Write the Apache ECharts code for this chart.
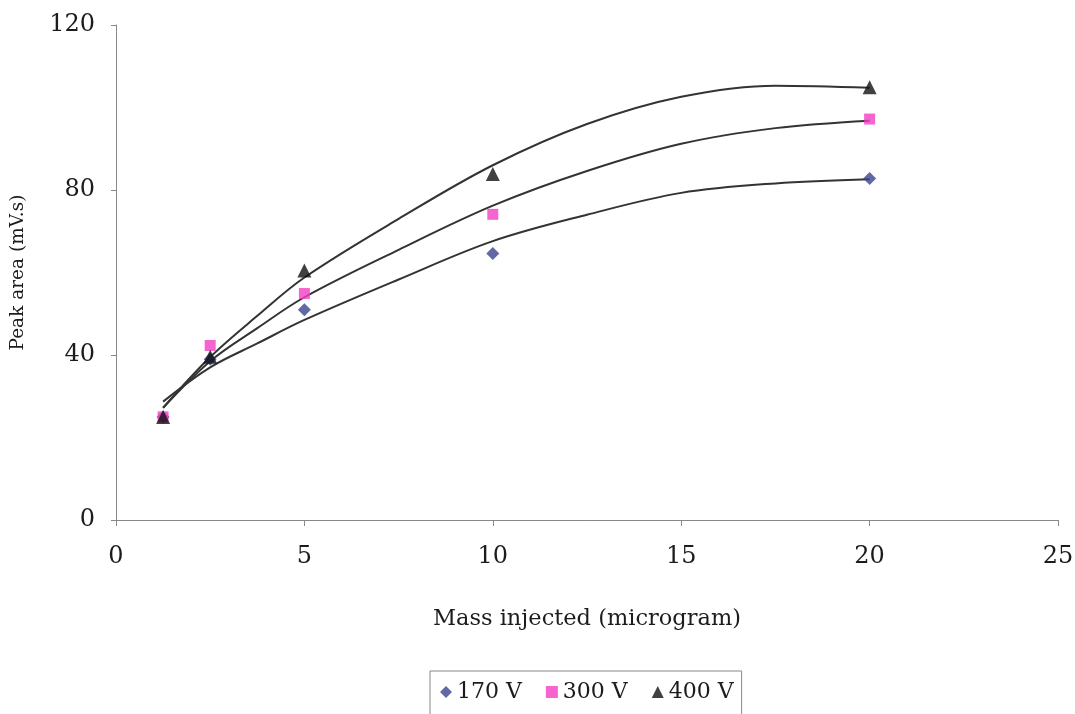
<!DOCTYPE html>
<html>
<head>
<meta charset="utf-8">
<script src="https://cdn.jsdelivr.net/npm/echarts@6/dist/echarts.min.js"></script>
<style>
html,body{margin:0;padding:0;background:#fff;}
#chart{width:1075px;height:714px;}
</style>
</head>
<body>
<div id="chart"></div>
<script>
// Measured points
const massX = [1.25, 2.5, 5, 10, 20];
const v170 = [25, 39, 51, 64.6, 82.8];
const v300 = [25, 42.3, 54.9, 74.1, 97.2];
const v400 = [25, 39.6, 60.5, 83.9, 104.9];

// Trend curves
const trendX = [1.25, 2.5, 3.75, 5, 7.5, 10, 12.5, 15, 17.5, 20];
const trend170 = [28.7, 37, 42.8, 48.5, 58.3, 67.6, 74, 79.3, 81.6, 82.6];
const trend300 = [27.2, 38.5, 46.5, 54, 65.5, 76.2, 84.6, 91.2, 95, 96.8];
const trend400 = [27.2, 39.5, 49.5, 58.8, 73, 86, 96, 102.6, 105.3, 104.8];

const seriesNames = ['170 V', '300 V', '400 V'];
const xTicks = {min: 0, max: 25, interval: 5};
const yTicks = {min: 0, max: 120, interval: 40};

const pair = (xs, ys) => xs.map((x, i) => [x, ys[i]]);
const serif = 'DejaVu Serif';
const ink = '#1c1c1c';

const chart = echarts.init(document.getElementById('chart'), null, {renderer: 'canvas'});
const trendStyle = {color: '#333', width: 2};
const mkTrend = (ys) => ({
  type: 'line', data: pair(trendX, ys), smooth: 0.35, showSymbol: false,
  symbol: 'none', lineStyle: trendStyle, z: 1, silent: true
});
chart.setOption({
  animation: false,
  backgroundColor: '#fff',
  grid: {left: 116, right: 17, top: 25, bottom: 194, containLabel: false, outerBoundsMode: 'none'},
  legend: {
    data: [
      {name: seriesNames[0], icon: 'diamond'},
      {name: seriesNames[1], icon: 'rect'},
      {name: seriesNames[2], icon: 'triangle'}
    ],
    left: 430, top: 671,
    padding: [10, 8, 20, 10],
    itemGap: 24, itemWidth: 12, itemHeight: 12,
    borderColor: '#888', borderWidth: 1,
    textStyle: {fontFamily: serif, fontSize: 22, color: ink, padding: [0, 0, 0, 0]}
  },
  xAxis: {
    type: 'value', min: xTicks.min, max: xTicks.max, interval: xTicks.interval,
    name: 'Mass injected (microgram)', nameLocation: 'middle', nameGap: 88,
    nameTextStyle: {fontFamily: serif, fontSize: 22.5, color: ink},
    axisLine: {lineStyle: {color: '#888', width: 1}},
    axisTick: {show: true, length: 6, lineStyle: {color: '#888'}},
    axisLabel: {fontFamily: serif, fontSize: 24, color: ink, margin: 25},
    splitLine: {show: false}
  },
  yAxis: {
    type: 'value', min: yTicks.min, max: yTicks.max, interval: yTicks.interval,
    name: 'Peak area (mV.s)', nameLocation: 'middle', nameGap: 88,
    nameTextStyle: {fontFamily: serif, fontSize: 18.5, color: ink},
    axisLine: {show: true, lineStyle: {color: '#888', width: 1}},
    axisTick: {show: true, length: 5, lineStyle: {color: '#888'}},
    axisLabel: {fontFamily: serif, fontSize: 24, color: ink, margin: 21},
    splitLine: {show: false}
  },
  series: [
    mkTrend(trend170), mkTrend(trend300), mkTrend(trend400),
    {name: seriesNames[0], type: 'scatter', data: pair(massX, v170), symbol: 'diamond',
     symbolSize: 13, itemStyle: {color: '#3b4290'}, z: 3},
    {name: seriesNames[1], type: 'scatter', data: pair(massX, v300), symbol: 'rect',
     symbolSize: 11, itemStyle: {color: '#f23fc4'}, z: 3},
    {name: seriesNames[2], type: 'scatter', data: pair(massX, v400), symbol: 'triangle',
     symbolSize: 14, itemStyle: {color: '#111'}, z: 4}
  ]
});
</script>
</body>
</html>
